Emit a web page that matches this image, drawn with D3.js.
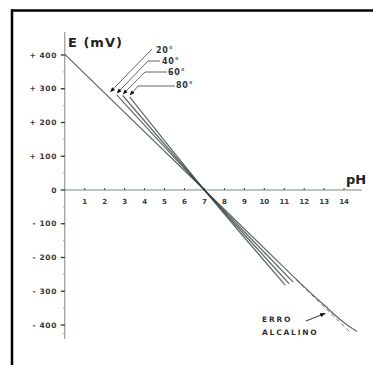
<!DOCTYPE html>
<html><head><meta charset="utf-8">
<script src="https://cdn.jsdelivr.net/npm/d3@7"></script>
<style>body{margin:0;background:#fff}svg{display:block}</style>
</head><body>
<script>
// ---- data ----
const yTicks = [400,300,200,100,0,-100,-200,-300,-400];
const yTickLabels = ["+ 400","+ 300","+ 200","+ 100","0","- 100","- 200","- 300","- 400"];
const yMinor = [350,250,150,50,-50,-150,-250,-350,-425];
const xTicks = [1,2,3,4,5,6,7,8,9,10,11,12,13,14];
const tempLabels = ["20°","40°","60°","80°"];
// [pH, E mV] points
const line20 = [[0,402],[7,0],[11,-230],[12,-287],[13,-341],[14,-393],[14.65,-419]];
const line40 = [[2.6,282],[7,0],[11.45,-273]];
const line60 = [[2.9,280],[7,0],[11.25,-278]];
const line80 = [[3.25,276],[7,0],[11.05,-282]];
const idealDashed = [[11.6,-266],[14.3,-421]];
const arrowTips = [[2.27,290],[2.6,286],[2.9,283],[3.25,280]];

const W=373,H=365;
const svg=d3.select("body").append("svg").attr("width",W).attr("height",H);
const x=d3.scaleLinear().domain([0,14]).range([64.8,344.1]);
const y=d3.scaleLinear().domain([-400,400]).range([325,55]);
const axisCol="#7a8583", lineCol="#2f3a38";
const font="DejaVu Sans, sans-serif";

// frame (top + left)
svg.append("line").attr("x1",11).attr("x2",W).attr("y1",10.5).attr("y2",10.5).attr("stroke","#000").attr("stroke-width",2.5);
svg.append("line").attr("x1",12).attr("x2",12).attr("y1",9.5).attr("y2",H).attr("stroke","#000").attr("stroke-width",2.5);

// y axis
svg.append("line").attr("x1",x(0)).attr("x2",x(0)).attr("y1",32).attr("y2",339).attr("stroke",axisCol).attr("stroke-width",1);
svg.selectAll(".yt").data(yTicks).join("line").attr("x1",x(0)-4).attr("x2",x(0)).attr("y1",d=>y(d)).attr("y2",d=>y(d)).attr("stroke","#333").attr("stroke-width",1.3);
svg.selectAll(".ym").data(yMinor).join("line").attr("x1",x(0)-1.5).attr("x2",x(0)).attr("y1",d=>y(d)).attr("y2",d=>y(d)).attr("stroke",axisCol).attr("stroke-width",1);
svg.selectAll(".yl").data(yTicks).join("text").attr("x",57).attr("y",(d)=>y(d)+2.7).attr("text-anchor","end")
  .attr("font-family",font).attr("font-weight","bold").attr("font-size",7.5).attr("letter-spacing",0.6).attr("fill","#3a3a3a")
  .text((d,i)=>yTickLabels[i]);

// x axis
svg.append("line").attr("x1",x(0)).attr("x2",362).attr("y1",y(0)).attr("y2",y(0)).attr("stroke",axisCol).attr("stroke-width",1);
svg.selectAll(".xt").data(xTicks).join("line").attr("x1",d=>x(d)).attr("x2",d=>x(d)).attr("y1",y(0)-2).attr("y2",y(0)).attr("stroke","#444").attr("stroke-width",1);
svg.selectAll(".xl").data(xTicks).join("text").attr("x",d=>x(d)).attr("y",y(0)+14).attr("text-anchor","middle")
  .attr("font-family",font).attr("font-weight","bold").attr("font-size",7).attr("fill","#3a3a3a").text(d=>d);

// axis titles
svg.append("text").attr("x",68).attr("y",47).attr("font-family",font).attr("font-weight","bold").attr("font-size",13).attr("letter-spacing",1).attr("fill","#222").text("E (mV)");
svg.append("text").attr("x",346).attr("y",184).attr("font-family",font).attr("font-weight","bold").attr("font-size",13).attr("fill","#222").text("pH");

// lines
const lg=d3.line().x(d=>x(d[0])).y(d=>y(d[1])).curve(d3.curveMonotoneX);
[line20,line40,line60,line80].forEach(l=>{
  svg.append("path").attr("d",lg(l)).attr("fill","none").attr("stroke",lineCol).attr("stroke-opacity",0.75).attr("stroke-width",1.25);
});
svg.append("path").attr("d",d3.line().x(d=>x(d[0])).y(d=>y(d[1]))(idealDashed)).attr("fill","none").attr("stroke",lineCol).attr("stroke-opacity",0.7).attr("stroke-width",1).attr("stroke-dasharray","4,3");

// temperature labels with leaders
const labelPos=[[156,53],[162,64],[168,75],[176,88]];
const elbow=[[152,49],[148,61],[145,72],[138,86]];
const hStart=[[152,49],[160,61],[167,72],[175,86]];
tempLabels.forEach((t,i)=>{
  const tip=[x(arrowTips[i][0]),y(arrowTips[i][1])];
  svg.append("polyline").attr("points",[hStart[i],elbow[i],[tip[0]+3,tip[1]-3]].map(p=>p.join(",")).join(" ")).attr("fill","none").attr("stroke","#555").attr("stroke-width",0.9);
  const ang=Math.atan2(tip[1]-elbow[i][1],tip[0]-elbow[i][0]);
  const L=5,w=2;
  const bx=tip[0]-L*Math.cos(ang), by=tip[1]-L*Math.sin(ang);
  svg.append("polygon").attr("points",[[tip[0],tip[1]],[bx-w*Math.sin(ang),by+w*Math.cos(ang)],[bx+w*Math.sin(ang),by-w*Math.cos(ang)]].map(p=>p.join(",")).join(" ")).attr("fill","#111");
  svg.append("text").attr("x",labelPos[i][0]).attr("y",labelPos[i][1]).attr("font-family",font).attr("font-weight","bold").attr("font-size",8).attr("letter-spacing",0.8).attr("fill","#333").text(t);
});

// alkaline error note
svg.append("text").attr("x",262).attr("y",322).attr("font-family",font).attr("font-weight","bold").attr("font-size",7.5).attr("letter-spacing",1.8).attr("fill","#333").text("ERRO");
svg.append("text").attr("x",262).attr("y",335).attr("font-family",font).attr("font-weight","bold").attr("font-size",7.5).attr("letter-spacing",1.8).attr("fill","#333").text("ALCALINO");
const a0=[306,321],a1=[326,313];
svg.append("line").attr("x1",a0[0]).attr("y1",a0[1]).attr("x2",a1[0]-3).attr("y2",a1[1]+1.2).attr("stroke","#333").attr("stroke-width",1);
{const ang=Math.atan2(a1[1]-a0[1],a1[0]-a0[0]),L=6,w=2;const bx=a1[0]-L*Math.cos(ang),by=a1[1]-L*Math.sin(ang);
svg.append("polygon").attr("points",[[a1[0],a1[1]],[bx-w*Math.sin(ang),by+w*Math.cos(ang)],[bx+w*Math.sin(ang),by-w*Math.cos(ang)]].map(p=>p.join(",")).join(" ")).attr("fill","#111");}
</script>
</body></html>
